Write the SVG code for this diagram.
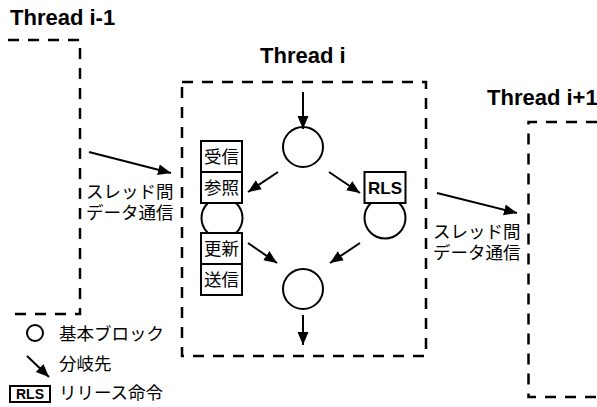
<svg xmlns="http://www.w3.org/2000/svg" width="597" height="407" viewBox="0 0 597 407">
<style>
.dash{fill:none;stroke:#000;stroke-width:2.5;stroke-dasharray:11,9}
.node{fill:#fff;stroke:#000;stroke-width:2}
.arr{stroke:#000;stroke-width:2;fill:none;marker-end:url(#ah)}
.title{font-family:"Liberation Sans",Arial,sans-serif;font-weight:bold;font-size:22px;fill:#000}
.rls{font-family:"Liberation Sans",Arial,sans-serif;font-weight:bold;font-size:17px;fill:#000}
.jp{font-family:"Noto Sans CJK JP","Noto Sans",sans-serif;font-size:17.5px;fill:#000}
</style>
<defs>
<marker id="ah" markerUnits="userSpaceOnUse" markerWidth="14" markerHeight="12" refX="13" refY="5.5" orient="auto">
<path d="M0,0 L13,5.5 L0,11 Z" fill="#000"/>
</marker>
</defs>
<rect width="597" height="407" fill="#fff"/>
<g id="thread-prev">
<text class="title" x="10" y="25">Thread i-1</text>
<path class="dash" d="M8,40 H80 V314 H8"/>
</g>
<g id="thread-i">
<text class="title" x="260" y="63">Thread i</text>
<rect class="dash" x="182" y="82" width="244" height="274"/>
</g>
<g id="thread-next">
<text class="title" x="487" y="105">Thread i+1</text>
<path class="dash" d="M597,122 H528.5 V397 H597"/>
</g>
<g id="label-left">
<text class="jp" x="86" y="198">スレッド間</text>
<text class="jp" x="86" y="219">データ通信</text>
</g>
<g id="label-right">
<text class="jp" x="433" y="238">スレッド間</text>
<text class="jp" x="433" y="259">データ通信</text>
</g>
<g id="block-top">
<circle class="node" cx="303" cy="147" r="20"/>
</g>
<g id="block-left">
<circle class="node" cx="222" cy="218" r="20.5"/>
<rect class="node" x="201" y="141" width="41" height="31"/>
<text class="jp" x="221.5" y="163" text-anchor="middle">受信</text>
<rect class="node" x="201" y="172" width="41" height="31"/>
<text class="jp" x="221.5" y="194" text-anchor="middle">参照</text>
<rect class="node" x="201" y="233" width="41" height="31"/>
<text class="jp" x="221.5" y="255" text-anchor="middle">更新</text>
<rect class="node" x="201" y="264" width="41" height="31"/>
<text class="jp" x="221.5" y="286" text-anchor="middle">送信</text>
</g>
<g id="block-right">
<circle class="node" cx="385" cy="218" r="20.5"/>
<rect class="node" x="364.5" y="172" width="41" height="31"/>
<text class="rls" x="385" y="194" text-anchor="middle">RLS</text>
</g>
<g id="block-bottom">
<circle class="node" cx="303" cy="289" r="20"/>
</g>
<g id="connectors">
<line class="arr" x1="303" y1="92" x2="303" y2="129"/>
<line class="arr" x1="278" y1="172" x2="248" y2="192"/>
<line class="arr" x1="329" y1="172" x2="360" y2="193"/>
<line class="arr" x1="248" y1="243" x2="277" y2="263"/>
<line class="arr" x1="360" y1="243" x2="330" y2="263"/>
<line class="arr" x1="303" y1="315" x2="303" y2="345"/>
<line class="arr" x1="89" y1="152" x2="171" y2="173"/>
<line class="arr" x1="437" y1="193" x2="517" y2="213"/>
</g>
<g id="legend">
<circle class="node" cx="35" cy="333" r="8"/>
<text class="jp" x="59" y="340">基本ブロック</text>
<line class="arr" x1="27" y1="356" x2="49" y2="377"/>
<text class="jp" x="59" y="370">分岐先</text>
<rect class="node" x="10" y="386" width="40" height="16"/>
<text class="rls" x="30" y="399" text-anchor="middle" style="font-size:14px">RLS</text>
<text class="jp" x="59" y="399">リリース命令</text>
</g>
</svg>
